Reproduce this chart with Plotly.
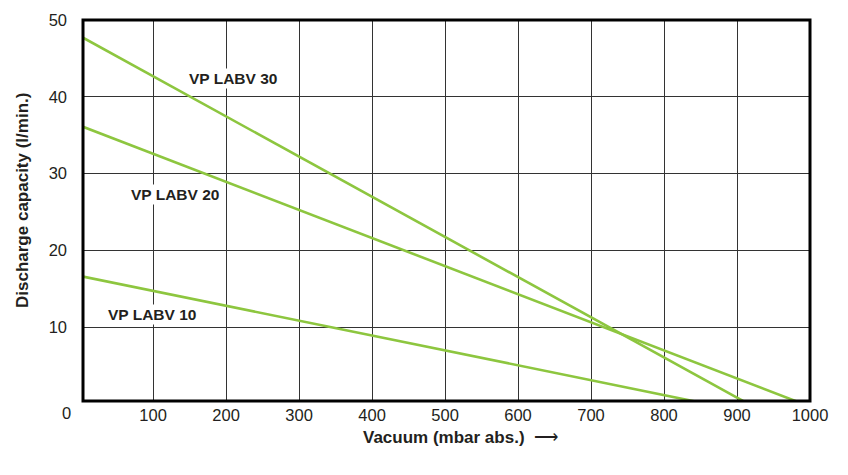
import plotly.graph_objects as go

# Data
vp30_x = [4, 916]
vp30_y = [47.7, 0]
vp20_x = [4, 991]
vp20_y = [36.1, 0]
vp10_x = [4, 860]
vp10_y = [16.6, 0]

series_names = ["VP LABV 30", "VP LABV 20", "VP LABV 10"]
label_pos = [(233, 78), (175, 195), (152, 314)]  # screen pixel positions (not data)

x_ticks = [100, 200, 300, 400, 500, 600, 700, 800, 900, 1000]
y_ticks = [10, 20, 30, 40, 50]

GREEN = "#8dc63f"
TXT = "#231f20"
FONT = "Liberation Sans, Arial, sans-serif"

W, H = 848, 475
L, R, T, B = 83, 38, 20, 74

fig = go.Figure()
for xs, ys, name in zip([vp30_x, vp20_x, vp10_x], [vp30_y, vp20_y, vp10_y], series_names):
    fig.add_trace(go.Scatter(x=xs, y=ys, mode="lines", name=name,
                             line=dict(color=GREEN, width=2.6), showlegend=False))

fig.update_layout(
    width=W, height=H,
    margin=dict(l=L, r=R, t=T, b=B),
    paper_bgcolor="white", plot_bgcolor="white",
    font=dict(family=FONT, size=17, color=TXT),
    xaxis=dict(range=[4, 1000], tickvals=x_ticks, showgrid=True, gridcolor="#333333",
               gridwidth=1, zeroline=False, showline=False, ticks="",
               tickfont=dict(size=16.5), ticklabelstandoff=2, fixedrange=True),
    yaxis=dict(range=[0.4, 50], tickvals=y_ticks, showgrid=True, gridcolor="#333333",
               gridwidth=1, zeroline=False, showline=False, ticks="",
               tickfont=dict(size=16.5), ticklabelstandoff=15, fixedrange=True),
)

# frame
fig.add_shape(type="rect", xref="paper", yref="paper", x0=0, y0=0, x1=1, y1=1,
              line=dict(color="black", width=3), layer="above")

pw = W - L - R
ph = H - T - B

def px_to_paper(px, py):
    return (px - L) / pw, 1 - (py - T) / ph

def add_text(px, py, text, size, **kw):
    xp, yp = px_to_paper(px, py)
    fig.add_annotation(x=xp, y=yp, xref="paper", yref="paper", text=text,
                       xanchor="center", yanchor="middle", showarrow=False,
                       font=dict(size=size, color=TXT), **kw)

for name, (px, py) in zip(series_names, label_pos):
    add_text(px, py, "<b>" + name + "</b>", 15.5, bgcolor="white", borderpad=1)

# corner "0" label
add_text(66, 413, "0", 16.5)

# axis titles
add_text(460, 438, "<b>Vacuum (mbar abs.)</b>  ⟶", 17)
add_text(22, 201, "<b>Discharge capacity (l/min.)</b>", 17, textangle=-90)

fig.write_html(
    "out.html",
    config={"displayModeBar": False},
    post_script="document.body.style.margin='0';document.body.style.overflow='hidden';",
)
